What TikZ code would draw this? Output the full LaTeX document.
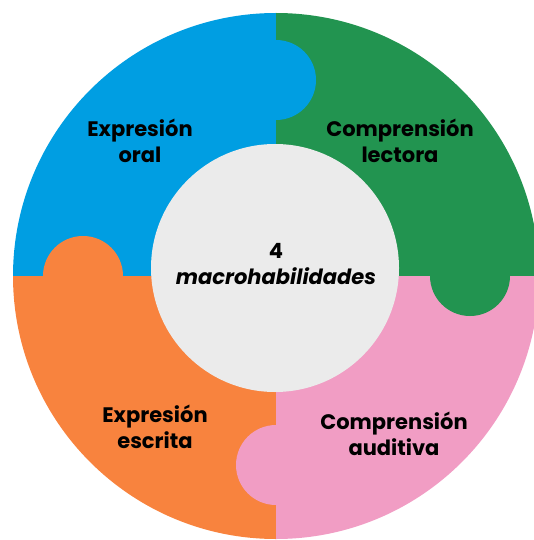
\documentclass[tikz,border=0pt]{standalone}
\usepackage{fontspec}
\setmainfont{Poppins}
\usepackage{tikz}
\usetikzlibrary{positioning}
\definecolor{oralblue}{RGB}{0,158,226}
\definecolor{lectgreen}{RGB}{34,148,80}
\definecolor{escorange}{RGB}{248,131,62}
\definecolor{audpink}{RGB}{241,157,196}
\definecolor{hubgrey}{RGB}{235,235,235}
\tikzset{skill/.style={font=\bfseries\fontsize{21}{26}\selectfont, align=center, text=black}, tab/.style={radius=40pt}}

\begin{document}
\begin{tikzpicture}[x=1pt, y=-1pt]
	\useasboundingbox (0,0) rectangle (534,540);
	\coordinate (O) at (276,276);
	% four pieces
	\begin{scope}
		\clip (O) circle[radius=263pt];
		\fill[oralblue] (O) rectangle (0,0);
		\fill[lectgreen] (O) rectangle (560,0);
		\fill[escorange] (O) rectangle (0,560);
		\fill[audpink] (O) rectangle (560,560);
	\end{scope}
	% tabs
	\fill[oralblue] (276,80) circle[tab];
	\fill[escorange] (83,276) circle[tab];
	\fill[lectgreen] (470,276) circle[tab];
	\fill[audpink] (276,465) circle[tab];
	% hub
	\fill[hubgrey] (275,268) circle[radius=124pt];
	\node[skill] (Hub) at (276,264) {4\\\itshape macrohabilidades};
	\node[skill] (Oral) at (140,141) {Expresión\\oral};
	\node[skill] (Lectora) at (400,141) {Comprensión\\lectora};
	\node[skill] (Escrita) at (155,427) {Expresión\\escrita};
	\node[skill] (Auditiva) at (394,434) {Comprensión\\auditiva};
\end{tikzpicture}
\end{document}
